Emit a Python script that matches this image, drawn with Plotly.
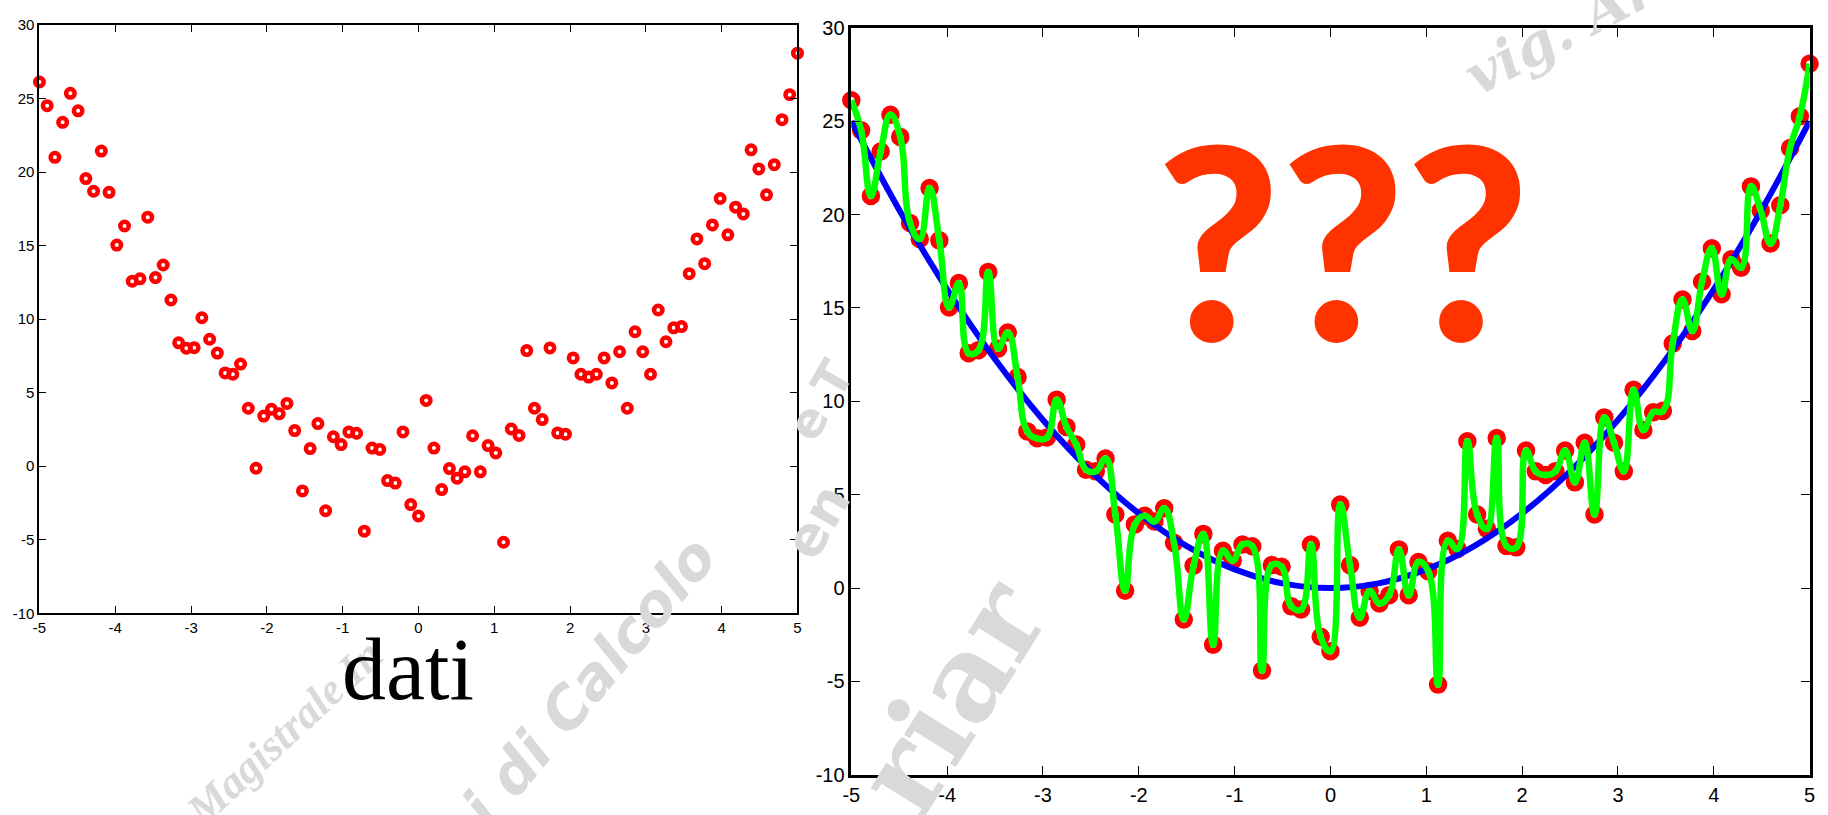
import numpy as np
import plotly.graph_objects as go

# sample grid: 99 equally spaced abscissae from -5 to 5
x_data = np.linspace(-5, 5, 99)

# noisy data values
y_data = [26.12, 24.51, 21.00, 23.38, 25.35, 24.16, 19.55, 18.69, 21.42, 18.62,
          15.03, 16.33, 12.58, 12.74, 16.93, 12.82, 13.68, 11.30,
          8.39, 8.02, 8.06, 10.09, 8.63, 7.69, 6.34, 6.25, 6.94, 3.94,
          -0.14, 3.41, 3.87, 3.56, 4.27, 2.42, -1.68, 1.20, 2.90, -3.03,
          2.00, 1.47, 2.33, 2.24, -4.42, 1.23, 1.14, -0.98, -1.15, 2.33,
          -2.61, -3.38,
          4.47, 1.23, -1.59, -0.16, -0.82, -0.38, 2.07, -0.38, 1.40, 0.90,
          -5.17, 2.53, 2.09, 7.86, 3.94, 3.17, 8.04, 2.26, 2.18, 7.36,
          6.25, 6.06, 6.25, 7.36, 5.66, 7.78, 3.94, 9.14, 7.78, 6.25,
          10.62, 8.46, 9.41, 9.49,
          13.09, 15.45, 13.77, 16.40, 18.20, 15.73, 17.61, 17.15, 21.51, 20.21,
          18.45, 20.50, 23.56, 25.26, 28.08]

# smooth (blue) curve values read at half-unit steps
blue_x = [-5, -4.5, -4, -3.5, -3, -2.5, -2, -1.5, -1, -0.5, 0,
          0.5, 1, 1.5, 2, 2.5, 3, 3.5, 4, 4.5, 5]
blue_y = [25, 20.25, 16, 12.25, 9, 6.25, 4, 2.25, 1, 0.25, 0,
          0.25, 1, 2.25, 4, 6.25, 9, 12.25, 16, 20.25, 25]

x_ticks = [-5, -4, -3, -2, -1, 0, 1, 2, 3, 4, 5]
y_ticks = [-10, -5, 0, 5, 10, 15, 20, 25, 30]

W, H = 1828, 815

fig = go.Figure()

# left panel: data only
fig.add_trace(go.Scatter(
    x=x_data, y=y_data, mode="markers", xaxis="x", yaxis="y",
    marker=dict(symbol="circle-open", size=8.5, color="#ff0000",
                line=dict(width=4.5, color="#ff0000")),
    cliponaxis=False, showlegend=False, hoverinfo="skip"))

# right panel: data, smooth curve, interpolating curve
fig.add_trace(go.Scatter(
    x=x_data, y=y_data, mode="markers", xaxis="x2", yaxis="y2",
    marker=dict(symbol="circle-open", size=12.5, color="#ff0000",
                line=dict(width=6, color="#ff0000")),
    cliponaxis=False, showlegend=False, hoverinfo="skip"))
fig.add_trace(go.Scatter(
    x=blue_x, y=blue_y, mode="lines", xaxis="x2", yaxis="y2",
    line=dict(color="#0000ff", width=6, shape="spline", smoothing=1.0),
    cliponaxis=False, showlegend=False, hoverinfo="skip"))
fig.add_trace(go.Scatter(
    x=x_data, y=y_data, mode="lines", xaxis="x2", yaxis="y2",
    line=dict(color="#00ff00", width=6.5, shape="spline", smoothing=1.3),
    cliponaxis=False, showlegend=False, hoverinfo="skip"))


def ax(domain, rng, tickvals, size, ticklen, lw, anchor):
    return dict(domain=domain, range=rng, tickvals=tickvals,
                ticktext=[str(v) for v in tickvals],
                showline=True, linecolor="black", linewidth=lw, mirror="ticks",
                ticks="inside", ticklen=ticklen, tickwidth=1, tickcolor="black",
                showgrid=False, zeroline=False, anchor=anchor,
                tickfont=dict(family="Liberation Sans, Arial", size=size, color="black"),
                fixedrange=True)


fig.update_layout(
    width=W, height=H,
    margin=dict(l=0, r=0, t=0, b=0),
    paper_bgcolor="white", plot_bgcolor="white",
    xaxis=ax([30.7 / W, 795 / W], [-5, 5], x_ticks, 15, 7, 2, "y"),
    yaxis=ax([1 - 619 / H, 1 - 14.3 / H], [-10, 30], y_ticks, 15, 7, 2, "x"),
    xaxis2=ax([849.3 / W, 1815.5 / W], [-5, 5], x_ticks, 20, 9, 2.5, "y2"),
    yaxis2=ax([1 - 785 / H, 1 - 17.3 / H], [-10, 30], y_ticks, 20, 9, 2.5, "x2"),
)

annotations = []
# watermark fragments (light grey, diagonal)
wm = "#d9d9d9"
annotations += [
    dict(text="Magistrale In", x=278 / W, y=1 - 742 / H, textangle=-43,
         font=dict(family="Liberation Serif", size=44, color=wm, weight="bold", style="italic")),
    dict(text="i di Calcolo", x=585 / W, y=1 - 690 / H, textangle=-50,
         font=dict(family="DejaVu Sans", size=58, color=wm, weight="bold", style="italic")),
    dict(text="e T", x=818 / W, y=1 - 400 / H, textangle=-60,
         font=dict(family="DejaVu Sans", size=48, color=wm, weight="bold")),
    dict(text="en", x=815 / W, y=1 - 525 / H, textangle=-60,
         font=dict(family="DejaVu Sans", size=54, color=wm, weight="bold")),
    dict(text="riar", x=950 / W, y=1 - 705 / H, textangle=-58,
         font=dict(family="DejaVu Serif", size=118, color=wm, weight="bold")),
    dict(text="vig. Ar", x=1565 / W, y=1 - 20 / H, textangle=-28,
         font=dict(family="DejaVu Serif", size=56, color=wm, weight="bold", style="italic")),
]
for a in annotations:
    a.update(xref="paper", yref="paper", showarrow=False, xanchor="center", yanchor="middle")

# the "dati" caption and the question marks
texts = [
    dict(text="dati", x=402 / W, y=1 - 677 / H,
         font=dict(family="Liberation Serif, Times New Roman", size=88, color="black")),
    dict(text="???", x=1345 / W, y=1 - 232 / H,
         font=dict(family="Lato, DejaVu Sans", size=268, color="#ff3300", weight=900)),
]
for a in texts:
    a.update(xref="paper", yref="paper", showarrow=False, xanchor="center", yanchor="middle")

fig.update_layout(annotations=annotations + texts)

fig.write_html("out.html")
